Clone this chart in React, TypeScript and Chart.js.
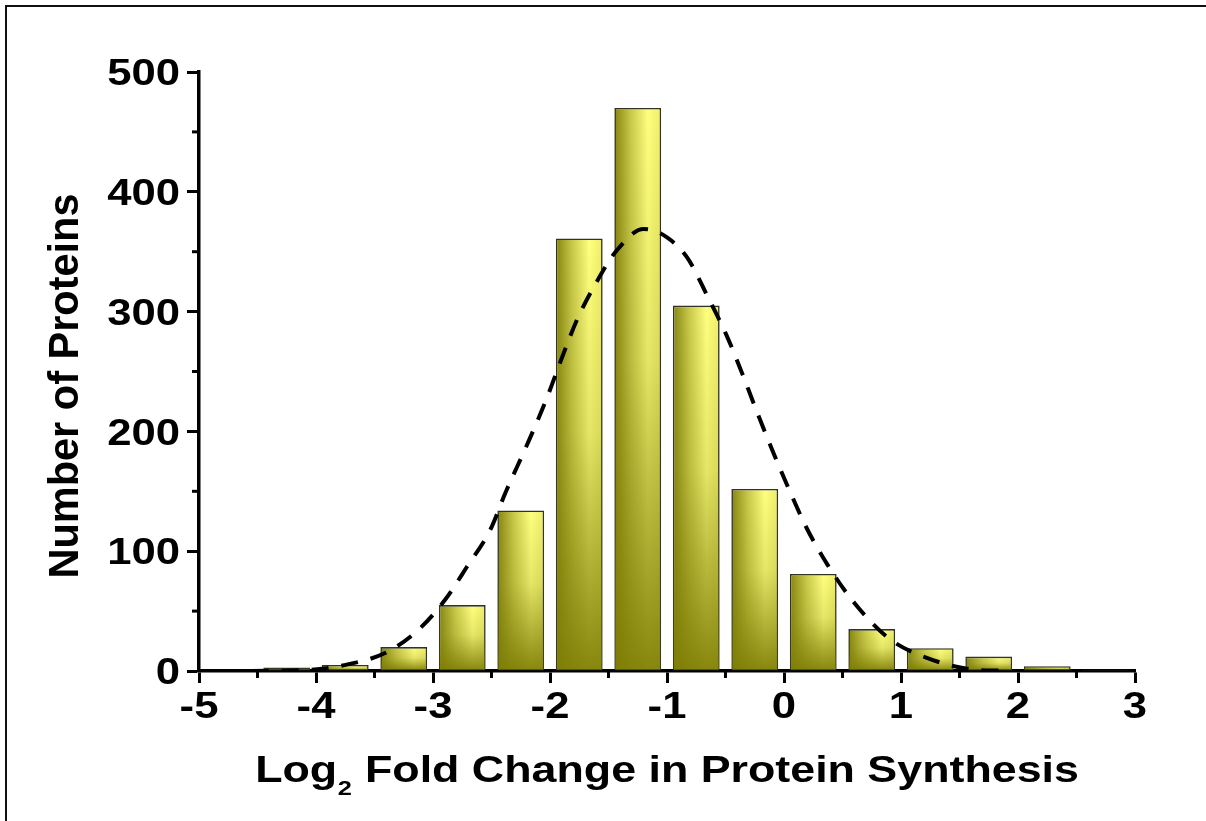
import React, { useEffect, useRef } from "react";
import { Chart, registerables } from "chart.js";
Chart.register(...registerables);

// Histogram bins (bin width 0.5) and counts
const binCenters = [-4.25, -3.75, -3.25, -2.75, -2.25, -1.75, -1.25, -0.75, -0.25, 0.25, 0.75, 1.25, 1.75, 2.25, 2.75];
const counts = [3, 5, 20, 55, 134, 361, 470, 305, 152, 81, 35, 19, 12, 4, 1];

// Dashed fitted curve
const fitX = [-4.55, -4.05, -3.73, -3.41, -3.14, -2.9, -2.71, -2.51, -2.38, -2.2, -2.03, -1.9, -1.77, -1.6, -1.43, -1.2, -1.0, -0.82, -0.65, -0.49, -0.36, -0.23, -0.09, 0.05, 0.19, 0.37, 0.6, 0.9, 1.22, 1.59, 1.85];
const fitY = [0, 1, 5.5, 15, 33, 59, 87, 118, 149, 188, 227, 261, 293, 325, 351, 369, 362, 344, 312, 280, 249, 216, 182, 150, 120, 89, 57, 27, 11, 1.5, 0.3];

const xTicks = [-5, -4, -3, -2, -1, 0, 1, 2, 3];
const yTicks = [0, 100, 200, 300, 400, 500];
const xMinorTicks = [-4.5, -3.5, -2.5, -1.5, -0.5, 0.5, 1.5, 2.5];
const yMinorTicks = [50, 150, 250, 350, 450];

const xTitleMain = "Log";
const xTitleSub = "2";
const xTitleRest = " Fold Change in Protein Synthesis";
const yTitle = "Number of Proteins";

const FONT = "'Liberation Sans', Arial, sans-serif";
const STRETCH = 1.18;
const TITLE_STRETCH = 1.21;

export default function App() {
  const ref = useRef<HTMLCanvasElement | null>(null);

  useEffect(() => {
    document.body.style.margin = "0";
    document.documentElement.style.overflow = "hidden";
    const canvas = ref.current!;

    const barShade = {
      id: "barShade",
      afterDatasetDraw(chart: any, args: any) {
        if (args.index !== 0) return;
        const ctx = chart.ctx;
        const meta = chart.getDatasetMeta(0);
        ctx.save();
        meta.data.forEach((el: any) => {
          const { x, y, base, width } = el.getProps(["x", "y", "base", "width"], true);
          const h = base - y;
          if (!isFinite(h) || h < 3) return;
          const g = ctx.createLinearGradient(0, y, 0, base);
          g.addColorStop(0, "rgba(128,128,8,0)");
          g.addColorStop(0.45, "rgba(128,128,8,0.2)");
          g.addColorStop(1, "rgba(125,125,5,0.92)");
          ctx.fillStyle = g;
          ctx.fillRect(x - width / 2 + 1, y + 1, width - 2, h - 2);
        });
        ctx.restore();
      },
    };

    const decor = {
      id: "decor",
      afterDraw(chart: any) {
        const ctx = chart.ctx;
        const xs = chart.scales.x;
        const ys = chart.scales.y;
        const ca = chart.chartArea;
        ctx.save();
        ctx.strokeStyle = "#000";
        ctx.lineWidth = 3;
        xMinorTicks.forEach((v) => {
          const px = xs.getPixelForValue(v);
          ctx.beginPath();
          ctx.moveTo(px, ca.bottom);
          ctx.lineTo(px, ca.bottom + 7);
          ctx.stroke();
        });
        yMinorTicks.forEach((v) => {
          const py = ys.getPixelForValue(v);
          ctx.beginPath();
          ctx.moveTo(ca.left, py);
          ctx.lineTo(ca.left - 7, py);
          ctx.stroke();
        });
        ctx.fillStyle = "#000";
        const tickFont = `bold 37px ${FONT}`;
        const capH = 0.716 * 37;
        // y tick labels (positions from the y scale)
        ctx.font = tickFont;
        ctx.textAlign = "right";
        ctx.textBaseline = "alphabetic";
        yTicks.forEach((v) => {
          const py = ys.getPixelForValue(v);
          ctx.save();
          ctx.translate(ca.left - 19, py + capH / 2);
          ctx.scale(STRETCH, 1);
          ctx.fillText(String(v), 0, 0);
          ctx.restore();
        });
        // x tick labels
        ctx.textAlign = "center";
        xTicks.forEach((v) => {
          const px = xs.getPixelForValue(v);
          ctx.save();
          ctx.translate(px, ca.bottom + 47);
          ctx.scale(STRETCH, 1);
          ctx.fillText(String(v), 0, 0);
          ctx.restore();
        });
        // x title with subscript
        ctx.textAlign = "left";
        const big = `bold 37px ${FONT}`;
        const small = `bold 21px ${FONT}`;
        ctx.font = big;
        const w1 = ctx.measureText(xTitleMain).width;
        const w3 = ctx.measureText(xTitleRest).width;
        ctx.font = small;
        const w2 = ctx.measureText(xTitleSub).width + 1;
        const total = (w1 + w2 + w3) * TITLE_STRETCH;
        const cx = (ca.left + ca.right) / 2;
        ctx.save();
        ctx.translate(cx - total / 2, 782);
        ctx.scale(TITLE_STRETCH, 1);
        ctx.font = big;
        ctx.fillText(xTitleMain, 0, 0);
        ctx.font = small;
        ctx.fillText(xTitleSub, w1 + 0.5, 13);
        ctx.font = big;
        ctx.fillText(xTitleRest, w1 + w2, 0);
        ctx.restore();
        // y title
        ctx.save();
        ctx.font = `bold 38px ${FONT}`;
        const wy = ctx.measureText(yTitle).width;
        ctx.translate(78, 386);
        ctx.scale(1.12, 1);
        ctx.rotate(-Math.PI / 2);
        ctx.scale(385 / wy, 1);
        ctx.textAlign = "center";
        ctx.fillText(yTitle, 0, 0);
        ctx.restore();
        ctx.restore();
      },
    };

    const chart = new Chart(canvas, {
      type: "bar",
      data: {
        datasets: [
          {
            type: "bar",
            order: 1,
            data: binCenters.map((x, i) => ({ x, y: counts[i] })),
            barPercentage: 0.8,
            categoryPercentage: 1,
            borderColor: "#333322",
            borderWidth: 1.6,
            borderSkipped: false,
            backgroundColor: (c: any) => {
              const ch = c.chart;
              const xs = ch.scales && ch.scales.x;
              if (!xs || c.dataIndex === undefined) return "#d8d850";
              const cxp = xs.getPixelForValue(binCenters[c.dataIndex]);
              const w = 0.8 * (xs.getPixelForValue(0.5) - xs.getPixelForValue(0));
              if (!isFinite(cxp) || !isFinite(w) || w <= 0) return "#d8d850";
              const g = ch.ctx.createLinearGradient(cxp - w / 2, 0, cxp + w / 2, 0);
              g.addColorStop(0, "#858510");
              g.addColorStop(0.35, "#c8c84a");
              g.addColorStop(0.72, "#ffff80");
              g.addColorStop(1, "#eeee68");
              return g;
            },
          } as any,
          {
            type: "line",
            order: 0,
            data: fitX.map((x, i) => ({ x, y: fitY[i] })),
            borderColor: "#000",
            borderWidth: 4,
            borderDash: [17, 13],
            pointRadius: 0,
            fill: false,
            cubicInterpolationMode: "monotone",
          } as any,
        ],
      },
      options: {
        animation: false,
        responsive: false,
        layout: { padding: { left: 0, top: 72, right: 71, bottom: 0 } },
        plugins: { legend: { display: false }, tooltip: { enabled: false } },
        scales: {
          x: {
            type: "linear",
            min: -5,
            max: 3,
            offset: false,
            afterBuildTicks: (s: any) => {
              s.ticks = xTicks.map((v) => ({ value: v }));
            },
            afterFit: (s: any) => {
              s.height = 150;
            },
            grid: { offset: false, drawOnChartArea: false, drawTicks: true, tickLength: 12, tickWidth: 3, tickColor: "#000" },
            border: { display: true, color: "#000", width: 3.5 },
            ticks: { display: false },
          },
          y: {
            type: "linear",
            min: 0,
            max: 500,
            afterBuildTicks: (s: any) => {
              s.ticks = yTicks.map((v) => ({ value: v }));
            },
            afterFit: (s: any) => {
              s.width = 199;
            },
            grid: { drawOnChartArea: false, drawTicks: true, tickLength: 12, tickWidth: 3, tickColor: "#000" },
            border: { display: true, color: "#000", width: 3.5 },
            ticks: { display: false },
          },
        },
      } as any,
      plugins: [barShade, decor],
    });
    return () => chart.destroy();
  }, []);

  return (
    <div style={{ position: "fixed", left: 0, top: 0, width: 1206, height: 821, background: "#fff", overflow: "hidden" }}>
      <canvas ref={ref} width={1206} height={821} style={{ display: "block" }} />
      <div
        style={{
          position: "absolute",
          left: 5,
          top: 5,
          width: 1400,
          height: 1000,
          borderTop: "2.5px solid #111",
          borderLeft: "2.5px solid #111",
          pointerEvents: "none",
        }}
      />
    </div>
  );
}
